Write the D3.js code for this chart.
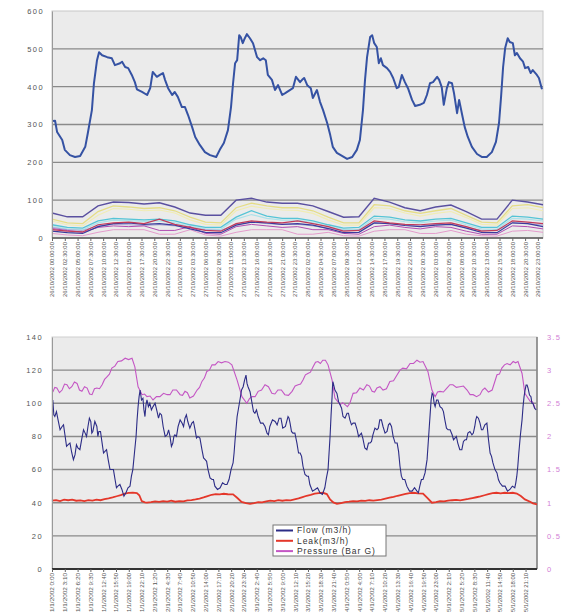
<!DOCTYPE html>
<html>
<head>
<meta charset="utf-8">
<script src="https://cdnjs.cloudflare.com/ajax/libs/d3/7.8.5/d3.min.js"></script>
<style>
  body { margin: 0; background: #fff; }
  svg { display: block; font-family: "Liberation Sans", Arial, sans-serif; }
</style>
</head>
<body>
<svg id="chart" width="586" height="614"></svg>
<script>
// ---------- top chart data (hours from start, m3/h) ----------
const siteFlow = [[0.2,309],[0.6,310],[1.0,280],[2.0,259],[2.5,233],[3.5,219],[4.5,214],[5.5,217],[6.5,241],[7.0,277],
  [7.8,338],[8.2,409],[8.8,470],[9.2,491],[9.8,483],[10.8,478],[11.7,475],[12.3,457],[13.3,462],[13.7,466],[14.3,452],
  [14.9,449],[15.6,431],[16.2,412],[16.6,393],[17.6,386],[18.6,378],[19.2,396],[19.7,439],[20.5,426],[21.1,431],
  [21.7,436],[22.1,418],[22.7,396],[23.5,378],[24.0,386],[24.6,373],[25.4,346],[26.0,346],[26.6,325],[27.4,293],
  [28.0,267],[28.9,246],[29.9,227],[30.9,219],[32.1,214],[32.8,233],[33.6,251],[34.4,285],[35.0,346],[35.4,409],
  [35.8,462],[36.2,470],[36.6,536],[36.9,531],[37.3,515],[37.7,528],[38.1,539],[38.7,528],[39.3,515],[40.1,478],
  [40.7,470],[41.3,475],[41.8,470],[42.2,431],[43.0,418],[43.6,391],[44.2,404],[45.0,378],[45.6,383],[46.5,391],
  [47.1,396],[47.7,426],[48.5,412],[48.9,418],[49.3,423],[49.9,404],[50.6,396],[51.0,370],[51.8,391],[52.4,360],
  [53.0,338],[53.8,304],[54.4,272],[54.9,241],[55.7,225],[56.7,217],[57.7,209],[58.7,214],[59.6,233],[60.2,259],
  [60.8,338],[61.2,418],[61.6,478],[62.2,531],[62.6,536],[63.0,515],[63.5,505],[63.9,462],[64.3,475],[64.7,457],
  [65.5,449],[66.1,439],[66.7,423],[67.4,396],[67.8,399],[68.4,431],[69.0,412],[69.6,396],[70.4,365],[71.0,349],
  [71.9,352],[72.7,357],[73.3,378],[73.9,409],[74.5,412],[75.3,426],[75.7,418],[76.2,399],[76.6,352],[77.2,396],
  [77.6,412],[78.2,409],[78.6,383],[79.2,330],[79.6,365],[80.2,325],[80.7,293],[81.3,267],[82.1,241],[83.1,222],
  [84.1,214],[85.0,214],[86.0,227],[86.8,254],[87.4,304],[87.8,373],[88.2,452],[88.6,502],[89.1,528],[89.5,518],
  [90.1,515],[90.5,483],[90.9,489],[91.5,475],[92.1,466],[92.5,449],[93.1,452],[93.6,436],[94.0,444],[94.8,431],
  [95.2,423],[95.8,393]];

// lower meters, sampled every 3 hours
const bandHours = [0,3,6,9,12,15,18,21,24,27,30,33,36,39,42,45,48,51,54,57,60,63,66,69,72,75,78,81,84,87,90,93,96];
const meterPurple = [66,56,56,85,95,94,90,93,82,66,60,60,100,105,95,92,92,85,70,55,56,105,95,80,72,82,87,70,50,50,100,95,88];
const meterYellow = [50,40,38,70,85,82,78,80,72,55,42,40,80,92,85,80,80,72,55,40,40,88,85,72,65,72,78,60,42,40,85,88,80];
const meterPaleYellow = [45,35,32,60,78,76,72,74,66,48,36,34,72,84,78,74,73,65,48,34,34,80,78,66,58,65,70,54,36,34,78,80,72];
const meterCyan = [35,28,26,45,52,50,48,50,45,35,28,28,55,72,58,52,52,45,35,26,28,58,55,48,45,50,52,40,28,28,58,55,50];
const meterPaleCyan = [30,24,22,40,47,46,44,45,40,30,24,23,50,62,52,47,47,40,30,22,23,52,50,43,40,45,47,35,24,23,52,50,45];
const meterLavender = [28,22,20,32,36,35,33,35,32,26,22,20,36,42,38,36,36,32,26,20,20,40,38,34,32,36,36,28,20,20,40,38,34];
const meterRed = [22,18,16,35,40,42,38,50,36,28,20,18,38,45,42,40,45,38,30,18,20,45,40,36,35,38,40,30,18,20,45,42,38];
const meterNavy = [18,14,12,30,38,40,36,38,34,24,15,14,34,42,40,36,38,34,25,14,15,40,38,33,30,34,36,26,15,14,40,38,30];
const meterMagenta = [25,20,15,28,32,30,32,20,20,30,12,10,30,36,32,28,30,22,22,12,10,30,34,28,24,30,28,18,10,10,32,30,24];
const meterPink = [12,8,6,15,22,22,22,10,10,22,8,5,15,22,22,22,10,10,15,6,5,18,22,22,12,12,20,10,6,5,18,20,15];

const topTickLabels = [
  "26/10/2002 00:00:00","26/10/2002 02:30:00","26/10/2002 05:00:00","26/10/2002 07:30:00","26/10/2002 10:00:00",
  "26/10/2002 12:30:00","26/10/2002 15:00:00","26/10/2002 17:30:00","26/10/2002 20:00:00","26/10/2002 22:30:00",
  "27/10/2002 01:00:00","27/10/2002 03:30:00","27/10/2002 06:00:00","27/10/2002 08:30:00","27/10/2002 11:00:00",
  "27/10/2002 13:30:00","27/10/2002 16:00:00","27/10/2002 18:30:00","27/10/2002 21:00:00","27/10/2002 23:30:00",
  "28/10/2002 02:00:00","28/10/2002 04:30:00","28/10/2002 07:00:00","28/10/2002 09:30:00","28/10/2002 12:00:00",
  "28/10/2002 14:30:00","28/10/2002 17:00:00","28/10/2002 19:30:00","28/10/2002 22:00:00","29/10/2002 00:30:00",
  "29/10/2002 03:00:00","29/10/2002 05:30:00","29/10/2002 08:00:00","29/10/2002 10:30:00","29/10/2002 13:00:00",
  "29/10/2002 15:30:00","29/10/2002 18:00:00","29/10/2002 20:30:00","29/10/2002 23:00:00"];

// ---------- bottom chart data (hours from start) ----------
const flow = [[0.2,102],[0.45,93],[0.7,92],[1.1,95],[1.5,90],[2.0,84],[2.5,86],[2.85,87],[3.2,81],[3.6,74],[4.0,75],
  [4.45,76],[4.9,70],[5.3,66],[5.7,69],[6.05,75],[6.4,73],[6.9,72],[7.4,79],[7.8,84],[8.2,82],[8.55,80],[8.9,86],
  [9.25,91],[9.6,89],[9.85,82],[10.1,83],[10.6,89],[11.1,86],[11.35,80],[11.6,83],[12.0,83],[12.4,76],[12.75,70],
  [13.1,71],[13.5,72],[13.9,66],[14.35,60],[14.8,60],[15.2,60],[15.6,54],[15.95,49],[16.3,50],[16.8,51],[17.3,48],
  [17.8,44],[18.3,46],[18.8,49],[19.3,50],[19.65,56],[20.0,60],[20.4,70],[20.8,80],[21.05,90],[21.3,98],[21.55,104],
  [21.8,108],[22.15,102],[22.5,103],[22.75,96],[23.0,92],[23.25,99],[23.5,102],[23.85,98],[24.2,100],[24.6,96],
  [25.0,98],[25.5,100],[26.0,95],[26.35,91],[26.7,94],[27.1,93],[27.5,86],[28.0,80],[28.5,81],[28.85,84],[29.2,80],
  [29.55,74],[29.9,76],[30.15,80],[30.4,81],[30.8,80],[31.2,86],[31.7,90],[32.2,88],[32.55,86],[32.9,91],[33.25,93],
  [33.6,89],[34.1,85],[34.6,88],[35.0,89],[35.4,84],[35.75,79],[36.1,80],[36.6,79],[37.1,72],[37.5,67],[37.9,66],
  [38.25,65],[38.6,60],[39.1,55],[39.6,54],[39.95,54],[40.3,50],[40.95,48],[41.6,49],[42.2,52],[42.8,51],[43.3,51],
  [43.8,54],[44.3,60],[44.8,64],[45.05,70],[45.3,78],[45.55,85],[45.8,92],[46.15,97],[46.5,102],[46.9,108],[47.3,110],
  [47.65,114],[48.0,117],[48.25,112],[48.5,110],[49.0,107],[49.5,100],[49.85,95],[50.2,94],[50.6,96],[51.0,92],
  [51.6,88],[52.2,88],[52.7,86],[53.2,82],[53.55,81],[53.9,86],[54.55,90],[55.2,89],[55.7,87],[56.2,91],[56.65,91],
  [57.1,85],[57.75,86],[58.4,92],[58.65,91],[58.9,88],[59.25,83],[59.6,82],[60.1,82],[60.6,76],[61.0,70],[61.4,70],
  [61.75,68],[62.1,62],[62.6,57],[63.1,56],[63.45,56],[63.8,51],[64.45,47],[65.1,48],[65.7,49],[66.3,46],[66.9,45],
  [67.5,49],[67.9,55],[68.3,60],[68.55,70],[68.8,80],[69.05,93],[69.3,104],[69.4,110],[69.5,113],[70.0,108],
  [70.5,106],[70.9,101],[71.3,99],[71.65,97],[72.0,92],[72.5,91],[73.0,94],[73.35,94],[73.7,90],[74.1,87],[74.5,88],
  [75.0,88],[75.5,84],[75.85,80],[76.2,81],[76.55,82],[76.9,79],[77.4,73],[77.9,72],[78.3,76],[78.7,76],[79.05,77],
  [79.4,81],[79.9,85],[80.4,84],[80.75,85],[81.1,90],[81.5,90],[81.9,86],[82.4,82],[82.9,83],[83.25,87],[83.6,88],
  [84.0,86],[84.4,80],[84.9,76],[85.4,76],[85.75,71],[86.1,62],[86.45,56],[86.8,54],[87.3,54],[87.8,50],[88.45,47],
  [89.1,47],[89.7,49],[90.3,47],[90.65,46],[91.0,50],[91.4,54],[91.8,54],[92.3,58],[92.8,66],[93.05,75],[93.3,84],
  [93.55,93],[93.8,102],[94.05,106],[94.3,105],[94.55,100],[94.8,98],[95.15,102],[95.5,102],[96.0,98],[96.5,97],
  [96.85,95],[97.2,90],[97.6,85],[98.0,84],[98.5,84],[99.0,81],[99.35,78],[99.7,79],[100.05,80],[100.4,76],
  [100.9,72],[101.4,72],[101.8,77],[102.2,78],[102.55,78],[102.9,82],[103.4,83],[103.9,81],[104.25,82],[104.6,86],
  [104.85,90],[105.1,92],[105.5,91],[105.9,88],[106.25,84],[106.6,84],[107.1,87],[107.6,88],[108.0,78],[108.4,70],
  [108.75,68],[109.1,64],[109.6,60],[110.1,58],[110.45,54],[110.8,52],[111.45,50],[112.1,50],[112.7,47],[113.3,48],
  [113.9,50],[114.5,49],[114.75,52],[115.0,56],[115.25,62],[115.5,70],[115.9,81],[116.3,90],[116.55,98],[116.8,104],
  [117.05,108],[117.3,111],[117.55,111],[117.8,109],[118.15,105],[118.5,104],[118.75,100],[119.0,100],[119.4,97],
  [119.8,96]];

const leak = [[0,41.2],[1,41.6],[2,41.0],[3,41.8],[4,41.5],[5,41.9],[6,41.2],[7,41.4],[8,41.0],[9,41.6],[10,41.3],
  [11,41.9],[12,41.5],[13,42.2],[14,42.6],[15,43.2],[16,43.9],[17,44.6],[18,45.5],[19,45.9],[20,46.1],[21,45.8],
  [21.6,44.5],[22.2,41.0],[23,40.2],[23.5,40.0],[24.5,40.3],[25.5,40.8],[26.5,40.5],[27.5,41.0],[28.5,40.7],
  [29.5,41.2],[30.5,40.6],[31.5,41.0],[32.5,40.8],[33.5,41.4],[34.5,41.6],[35.5,42.0],[36.5,42.5],[37.5,43.2],
  [38.5,44.0],[39.5,44.8],[40.5,45.2],[41.5,45.0],[42.5,45.4],[43.5,45.1],[44.8,45.0],[45.8,43.0],[46.9,40.5],
  [48,39.8],[49,39.3],[50,39.8],[51,40.4],[52,40.2],[53,40.8],[54,41.2],[55,41.0],[56,41.5],[57,41.2],[58,41.6],
  [59,41.4],[60,42.0],[61,42.6],[62,43.4],[63,44.2],[64,44.8],[65,45.5],[66,45.8],[67,46.0],[68,45.2],[68.8,42.0],
  [69.6,40.2],[70.5,39.3],[71.5,39.8],[72.5,40.3],[73.5,40.6],[74.5,41.0],[75.5,40.8],[76.5,41.3],[77.5,41.1],
  [78.5,41.5],[79.5,41.3],[80.5,41.6],[81.5,41.8],[82.5,42.4],[83.5,43.0],[84.5,43.5],[85.5,44.2],[86.5,44.8],
  [87.5,45.3],[88.5,45.8],[89.5,46.0],[90.5,45.6],[91.8,45.5],[92.8,43.0],[94.0,40.0],[95,40.4],[96,41.0],[97,40.8],
  [98,41.2],[99,41.5],[100,41.7],[101,41.4],[102,41.9],[103,42.3],[104,42.8],[105,43.3],[106,43.8],[107,44.5],
  [108,45.2],[109,45.8],[110,46.0],[111,45.7],[112,46.0],[113,45.8],[114,46.0],[115,45.5],[116,44.0],[117,42.0],
  [118.3,40.6],[119,39.6],[120,39.0]];

// pressure in Bar G (right axis)
const pressure = [[0.2,2.67],[0.7,2.74],[1.2,2.73],[1.85,2.66],[2.5,2.70],[3.1,2.79],[3.7,2.78],[4.3,2.72],[4.9,2.75],
  [5.55,2.82],[6.2,2.80],[6.8,2.70],[7.4,2.68],[8.05,2.75],[8.7,2.73],[9.3,2.64],[9.9,2.63],[10.5,2.72],[11.1,2.73],
  [11.75,2.72],[12.4,2.78],[13.0,2.86],[13.6,2.90],[14.2,2.94],[14.8,3.03],[15.55,3.06],[16.3,3.13],[17.2,3.14],
  [18.1,3.18],[18.95,3.16],[19.8,3.18],[20.5,3.05],[21.3,2.75],[22.3,2.63],[22.9,2.64],[23.5,2.60],[24.25,2.61],
  [25.0,2.55],[25.85,2.60],[26.7,2.60],[27.6,2.65],[28.5,2.63],[29.2,2.63],[29.9,2.70],[30.8,2.70],[31.7,2.63],
  [32.3,2.62],[32.9,2.68],[33.5,2.66],[34.1,2.58],[35.0,2.61],[35.9,2.70],[36.5,2.74],[37.1,2.83],[37.7,2.88],
  [38.3,2.98],[38.95,3.00],[39.6,3.08],[40.35,3.08],[41.1,3.13],[41.95,3.11],[42.8,3.13],[43.65,3.12],[44.5,3.08],
  [45.8,2.85],[47.0,2.60],[48.2,2.50],[48.85,2.57],[49.5,2.60],[50.25,2.60],[51.0,2.68],[51.85,2.70],[52.7,2.78],
  [53.55,2.75],[54.4,2.65],[55.15,2.64],[55.9,2.70],[56.75,2.70],[57.6,2.63],[58.5,2.62],[59.4,2.68],[60.15,2.76],
  [60.9,2.78],[61.5,2.79],[62.1,2.85],[62.7,2.93],[63.3,2.95],[63.95,2.97],[64.6,3.05],[65.2,3.12],[65.8,3.13],
  [66.4,3.10],[67.0,3.15],[67.65,3.15],[68.3,3.08],[69.3,2.85],[70.0,2.58],[71.3,2.48],[71.9,2.51],[72.5,2.48],
  [73.1,2.45],[73.7,2.50],[74.5,2.65],[75.35,2.66],[76.2,2.73],[77.05,2.70],[77.9,2.78],[78.55,2.76],[79.2,2.68],
  [79.8,2.67],[80.4,2.73],[81.15,2.75],[81.9,2.70],[82.75,2.72],[83.6,2.83],[84.5,2.84],[85.4,2.93],[86.1,3.00],
  [86.8,3.03],[87.7,3.02],[88.6,3.10],[89.45,3.10],[90.3,3.15],[91.05,3.12],[91.8,3.13],[93.0,2.98],[94.0,2.70],
  [94.8,2.60],[95.4,2.67],[96.0,2.68],[96.85,2.67],[97.7,2.73],[98.45,2.78],[99.2,2.78],[100.05,2.74],[100.9,2.75],
  [101.8,2.76],[102.7,2.70],[103.45,2.63],[104.2,2.63],[105.05,2.60],[105.9,2.63],[106.5,2.70],[107.1,2.73],
  [108.0,2.67],[108.9,2.70],[110.1,2.93],[110.7,2.94],[111.3,3.03],[111.95,3.08],[112.6,3.10],[113.35,3.08],
  [114.1,3.13],[114.7,3.11],[115.3,3.13],[116.3,2.95],[117.0,2.65],[118.3,2.53],[118.9,2.52],[119.5,2.43]];

const bottomTickLabels = [
  "1/1/2002 0:00","1/1/2002 3:10","1/1/2002 6:20","1/1/2002 9:30","1/1/2002 12:40","1/1/2002 15:50","1/1/2002 19:00",
  "1/1/2002 22:10","2/1/2002 1:20","2/1/2002 4:30","2/1/2002 7:40","2/1/2002 10:50","2/1/2002 14:00","2/1/2002 17:10",
  "2/1/2002 20:20","2/1/2002 23:30","3/1/2002 2:40","3/1/2002 5:50","3/1/2002 9:00","3/1/2002 12:10","3/1/2002 15:20",
  "3/1/2002 18:30","3/1/2002 21:40","4/1/2002 0:50","4/1/2002 4:00","4/1/2002 7:10","4/1/2002 10:20","4/1/2002 13:30",
  "4/1/2002 16:40","4/1/2002 19:50","4/1/2002 23:00","5/1/2002 2:10","5/1/2002 5:20","5/1/2002 8:30","5/1/2002 11:40",
  "5/1/2002 14:50","5/1/2002 18:00","5/1/2002 21:10"];
const legendLabels = ["Flow (m3/h)", "Leak(m3/h)", "Pressure (Bar G)"];

const svg = d3.select("#chart");
const axisFont = 7.5;

// rotated category labels under a chart
function drawRotatedTicks(g, scale, labels, step, axisY, len) {
  const axis = d3.axisBottom(scale)
    .tickValues(labels.map((d, i) => i * step))
    .tickFormat((d, i) => labels[i])
    .tickSize(3);
  const ax = g.append("g").attr("transform", `translate(0,${axisY})`).call(axis);
  ax.select(".domain").remove();
  ax.selectAll(".tick line").attr("stroke", "#666");
  ax.selectAll("text")
    .attr("transform", "rotate(-90)")
    .attr("text-anchor", "end")
    .attr("x", -4).attr("y", 0).attr("dy", "0.35em")
    .attr("font-size", 5.5)
    .attr("fill", "#555")
    .attr("textLength", len)
    .attr("lengthAdjust", "spacingAndGlyphs");
}

// ================= top chart =================
const x1 = d3.scaleLinear().domain([0, 96]).range([52, 543]);
const y1 = d3.scaleLinear().domain([0, 600]).range([238, 11]);
const topChart = svg.append("g");

topChart.append("rect").attr("x", 52).attr("y", 11).attr("width", 491).attr("height", 227)
  .attr("fill", "#ebebeb").attr("stroke", "#c8c8c8");

topChart.append("g")
  .selectAll("line")
  .data([100, 200, 300, 400, 500])
  .enter().append("line")
  .attr("x1", 52).attr("x2", 543)
  .attr("y1", d => y1(d)).attr("y2", d => y1(d))
  .attr("stroke", "#8a8a8a").attr("stroke-width", 1.4);

const bandLine = d3.line().x((d, i) => x1(bandHours[i])).y(d => y1(d));
const meters = [
  [meterPaleYellow, "#f1ecb4", 1.2], [meterYellow, "#e5dd86", 1.3], [meterPaleCyan, "#ace2ea", 1.2],
  [meterCyan, "#55c4d6", 1.3], [meterLavender, "#a9a6d4", 1], [meterPink, "#e49ccc", 1],
  [meterMagenta, "#b24cb2", 1], [meterNavy, "#3b3b9c", 1.2], [meterRed, "#c23a5a", 1.2],
  [meterPurple, "#5a50a0", 1.4]
];
meters.forEach(m => {
  topChart.append("path").datum(m[0]).attr("d", bandLine)
    .attr("fill", "none").attr("stroke", m[1]).attr("stroke-width", m[2]);
});

topChart.append("path").datum(siteFlow)
  .attr("d", d3.line().x(d => x1(d[0])).y(d => y1(d[1])))
  .attr("fill", "none").attr("stroke", "#3552a3").attr("stroke-width", 2)
  .attr("stroke-linejoin", "round");

const yAxis1 = topChart.append("g").attr("transform", "translate(52,0)")
  .call(d3.axisLeft(y1).tickValues([0, 100, 200, 300, 400, 500, 600]).tickSize(0).tickPadding(8));
yAxis1.select(".domain").attr("stroke", "#999");
yAxis1.selectAll("text").attr("font-size", axisFont).attr("fill", "#555").attr("letter-spacing", 1.4);

topChart.append("line").attr("x1", 52).attr("x2", 543).attr("y1", 238).attr("y2", 238)
  .attr("stroke", "#555").attr("stroke-width", 1.5);
drawRotatedTicks(topChart, x1, topTickLabels, 2.5, 238, 55);

// ================= bottom chart =================
const x2 = d3.scaleLinear().domain([0, 120]).range([52, 537]);
const yL = d3.scaleLinear().domain([0, 140]).range([569, 337]);
const yR = d3.scaleLinear().domain([0, 3.5]).range([569, 337]);
const bottomChart = svg.append("g");

bottomChart.append("rect").attr("x", 52).attr("y", 337).attr("width", 485).attr("height", 232)
  .attr("fill", "#ebebeb").attr("stroke", "#cfcfcf");
bottomChart.append("line").attr("x1", 537).attr("x2", 537).attr("y1", 337).attr("y2", 569)
  .attr("stroke", "#666").attr("stroke-width", 1.2);

bottomChart.append("g")
  .selectAll("line")
  .data([20, 40, 60, 80, 100, 120])
  .enter().append("line")
  .attr("x1", 52).attr("x2", 537)
  .attr("y1", d => yL(d)).attr("y2", d => yL(d))
  .attr("stroke", "#8a8a8a").attr("stroke-width", 1.4);

bottomChart.append("path").datum(pressure)
  .attr("d", d3.line().x(d => x2(d[0])).y(d => yR(d[1])))
  .attr("fill", "none").attr("stroke", "#c456c4").attr("stroke-width", 1.1);

bottomChart.append("path").datum(leak)
  .attr("d", d3.line().x(d => x2(d[0])).y(d => yL(d[1])))
  .attr("fill", "none").attr("stroke", "#e4372a").attr("stroke-width", 1.8);

bottomChart.append("path").datum(flow)
  .attr("d", d3.line().x(d => x2(d[0])).y(d => yL(d[1])))
  .attr("fill", "none").attr("stroke", "#2c2c86").attr("stroke-width", 1.1);

const yAxisL = bottomChart.append("g").attr("transform", "translate(52,0)")
  .call(d3.axisLeft(yL).tickValues([0, 20, 40, 60, 80, 100, 120, 140]).tickSize(0).tickPadding(9));
yAxisL.select(".domain").attr("stroke", "#999");
yAxisL.selectAll("text").attr("font-size", axisFont).attr("fill", "#555").attr("letter-spacing", 1.4);

const yAxisR = bottomChart.append("g").attr("transform", "translate(537,0)")
  .call(d3.axisRight(yR).tickValues([0, 0.5, 1, 1.5, 2, 2.5, 3, 3.5]).tickFormat(d => String(d))
    .tickSize(0).tickPadding(10));
yAxisR.select(".domain").remove();
yAxisR.selectAll("text").attr("font-size", axisFont).attr("fill", "#d27fd6").attr("letter-spacing", 1.2);

bottomChart.append("line").attr("x1", 52).attr("x2", 537).attr("y1", 569).attr("y2", 569)
  .attr("stroke", "#333").attr("stroke-width", 2);
drawRotatedTicks(bottomChart, x2, bottomTickLabels, 19 / 6, 569, 39);

// legend
const legendColors = ["#2c2c86", "#e4372a", "#c456c4"];
const legend = bottomChart.append("g").attr("transform", "translate(273,525)");
legend.append("rect").attr("width", 113).attr("height", 31)
  .attr("fill", "#fff").attr("stroke", "#777");
legendLabels.forEach((name, i) => {
  const yy = 5.5 + i * 10.3;
  legend.append("line").attr("x1", 3).attr("x2", 20).attr("y1", yy).attr("y2", yy)
    .attr("stroke", legendColors[i]).attr("stroke-width", 2);
  legend.append("text").attr("x", 24).attr("y", yy).attr("dy", "0.35em")
    .attr("font-size", 8.5).attr("letter-spacing", 0.9).attr("fill", "#333").text(name);
});
</script>
</body>
</html>
